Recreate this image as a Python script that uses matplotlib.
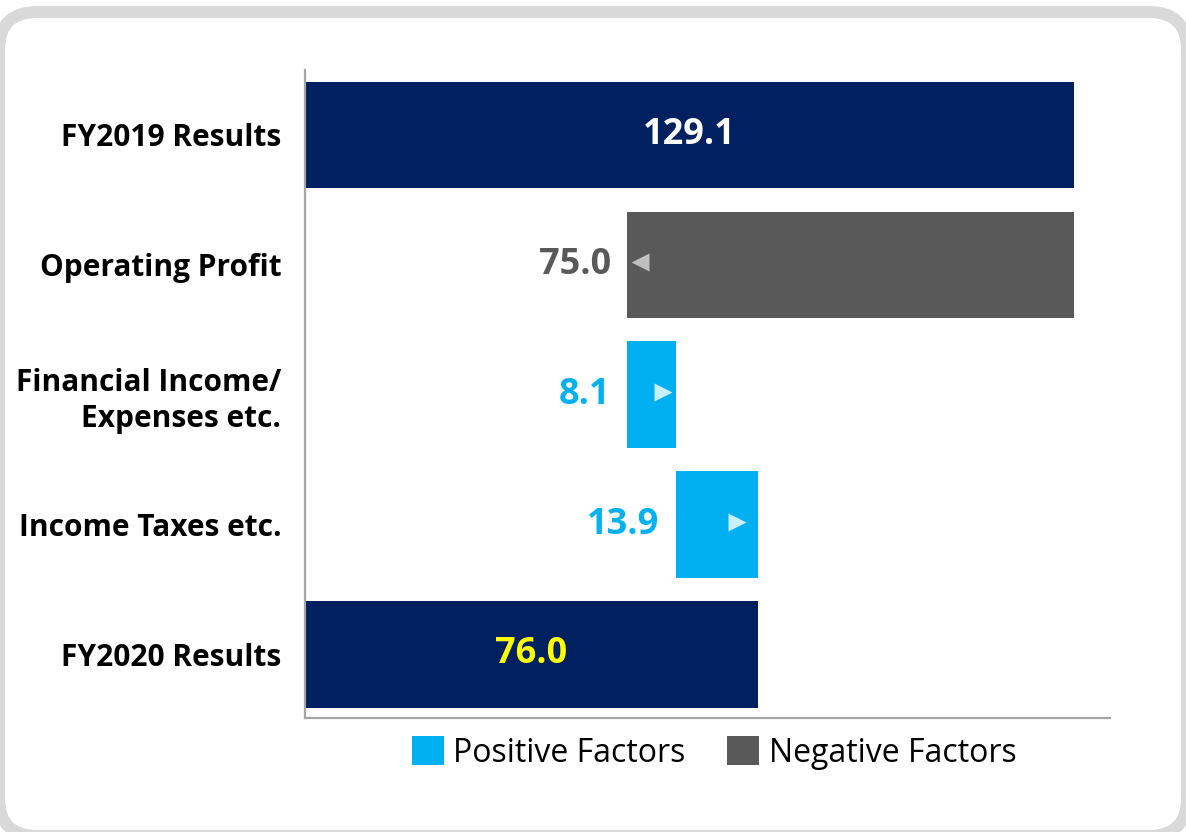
import matplotlib
matplotlib.use('Agg')
import matplotlib.pyplot as plt
from matplotlib.patches import FancyBboxPatch, Patch

plt.rcParams['font.family'] = ['Open Sans', 'DejaVu Sans']

# --- data ---
categories = ['FY2019 Results', 'Operating Profit', 'Financial Income/\nExpenses etc.',
              'Income Taxes etc.', 'FY2020 Results']
values = [129.1, -75.0, 8.1, 13.9, 76.0]
kinds = ['total', 'neg', 'pos', 'pos', 'total']
value_labels = ['129.1', '75.0', '8.1', '13.9', '76.0']
legend_labels = ['Positive Factors', 'Negative Factors']

NAVY = '#002060'
CYAN = '#00B0F0'
GRAY = '#595959'
label_colors = {'total': 'white', 'neg': GRAY, 'pos': CYAN}
bar_colors = {'total': NAVY, 'neg': GRAY, 'pos': CYAN}

W, H = 1186, 832
fig = plt.figure(figsize=(W / 100, H / 100), dpi=100)
fig.patch.set_facecolor('white')

# rounded gray frame around everything
ax_bg = fig.add_axes([0, 0, 1, 1], zorder=-1)
ax_bg.set_xlim(0, W); ax_bg.set_ylim(H, 0); ax_bg.axis('off')
ax_bg.add_patch(FancyBboxPatch((-1, 12), W + 2, H - 8,
                               boxstyle='round,pad=0,rounding_size=38',
                               fc='white', ec='#d9d9d9', lw=8.6))

ax = fig.add_axes([305 / W, 1 - 718 / H, (1110 - 305) / W, (718 - 70) / H])

# waterfall geometry
lefts, widths = [], []
running = 0.0
for v, k in zip(values, kinds):
    if k == 'total':
        lefts.append(0.0); widths.append(v); running = v
    elif k == 'neg':
        lefts.append(running + v); widths.append(-v); running += v
    else:
        lefts.append(running); widths.append(v); running += v

ypos = list(range(len(categories)))
ax.barh(ypos, widths, left=lefts, height=0.82,
        color=[bar_colors[k] for k in kinds], edgecolor='none', zorder=2)

for i, k in enumerate(kinds):
    if k == 'total':
        col = 'white' if i == 0 else '#FFFF00'
        ax.text(lefts[i] + widths[i] / 2, i, value_labels[i], ha='center', va='center',
                fontsize=26, fontweight='bold', color=col, zorder=3)
    else:
        ax.annotate(value_labels[i], xy=(lefts[i], i), xytext=(-12, 0),
                    textcoords='offset points', ha='right', va='center',
                    fontsize=26, fontweight='bold', color=label_colors[k])
        if k == 'neg':
            ax.plot(lefts[i] + 2.2, i - 0.02, marker='<', ms=13, color='#bfbfbf',
                    mec='none', zorder=3)
        else:
            ax.plot(lefts[i] + widths[i] * 0.74, i - 0.02, marker='>', ms=13,
                    color='#c7effc', mec='none', zorder=3)

ax.set_xlim(0, 135.1)
ax.set_ylim(4.49, -0.5)
ax.set_yticks(ypos)
ax.set_yticklabels(categories, fontsize=21.5, fontweight='bold', linespacing=1.25)
ax.tick_params(axis='y', length=0, pad=17)
ax.set_xticks([])
for s in ['top', 'right']:
    ax.spines[s].set_visible(False)
for s in ['left', 'bottom']:
    ax.spines[s].set_color('#a6a6a6')
    ax.spines[s].set_linewidth(1.6)

handles = [Patch(fc=CYAN, ec='none'), Patch(fc=GRAY, ec='none')]
fig.legend(handles, legend_labels, loc='center', bbox_to_anchor=(714 / W, 1 - 753 / H),
           ncol=2, frameon=False, fontsize=23, handlelength=1.0, handleheight=1.0,
           handletextpad=0.3, columnspacing=1.3)

fig.savefig('out.png', dpi=100)
